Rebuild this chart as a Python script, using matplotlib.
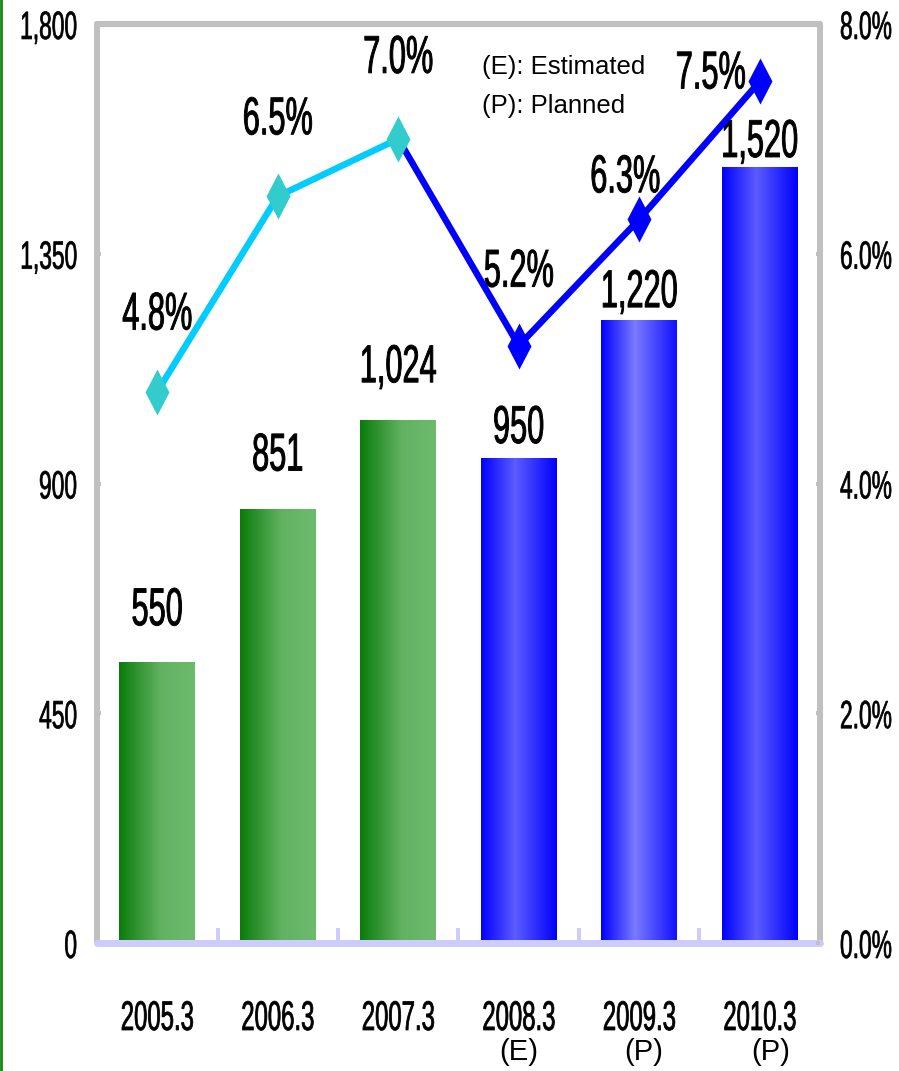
import numpy as np
import matplotlib
matplotlib.use("Agg")
import matplotlib.pyplot as plt
from matplotlib import font_manager
from matplotlib.colors import LinearSegmentedColormap
from matplotlib.patheffects import AbstractPathEffect
from matplotlib.transforms import Affine2D
from matplotlib.path import Path
from matplotlib.lines import Line2D
from matplotlib.ticker import FuncFormatter
from matplotlib.textpath import TextToPath

# ---- data -------------------------------------------------------------
periods = ["2005.3", "2006.3", "2007.3", "2008.3", "2009.3", "2010.3"]
status = ["", "", "", "(E)", "(P)", "(P)"]
sales = [550, 851, 1024, 950, 1220, 1520]
growth = [4.8, 6.5, 7.0, 5.2, 6.3, 7.5]
left_ticks = [0, 450, 900, 1350, 1800]
right_ticks = [0.0, 2.0, 4.0, 6.0, 8.0]
notes = ["(E): Estimated", "(P): Planned"]

# ---- styling ----------------------------------------------------------
W, H, DPI = 899, 1071, 100
PX = 72.0 / DPI  # points per pixel

GREEN_STOPS = [(0.0, "#0a7c0a"), (0.55, "#62b262"), (1.0, "#6dba6d")]
BLUE_STOPS = [
    [(0.0, "#0000ff"), (0.45, "#5c5cff"), (1.0, "#0000ff")],
    [(0.0, "#0000ff"), (0.45, "#7a7aff"), (1.0, "#1010ff")],
    [(0.0, "#0000ff"), (0.45, "#5c5cff"), (1.0, "#0000ff")],
]
bar_stops = [GREEN_STOPS] * 3 + BLUE_STOPS
line_colors = ["#00ccff", "#00ccff", "#0000ff", "#0000ff", "#0000ff"]
marker_colors = ["#33cccc"] * 3 + ["#0000ff"] * 3
value_gap_px = [37, 38, 38, 15, 13, 10]
pct_offset_px = [(0, 62), (0, 62), (0, 66), (0, 59), (-14, 27), (-49, -7)]
status_dx_px = [0, 0, 0, 0, 4, 11]

FRAME = "#c0c0c0"
AXIS_LAV = "#ccccff"

# condensed numeric face; fall back to a regular face squeezed further
names = {f.name for f in font_manager.fontManager.ttflist}
if "Liberation Sans Narrow" in names:
    NARROW, WK = "Liberation Sans Narrow", 1.0
else:
    NARROW, WK = "Liberation Sans", 0.82
REG = "Liberation Sans" if "Liberation Sans" in names else "DejaVu Sans"
NUM_FAMILY = [NARROW, "DejaVu Sans"]


class Stretch(AbstractPathEffect):
    """Draw glyphs taller than their nominal face (pivot given as a fraction
    of the em above the baseline), with a slight outline to darken strokes."""

    def __init__(self, sy, pivot=0.0, outline=0.0):
        super().__init__()
        self.sy = sy
        self.pivot = pivot
        self.outline = outline

    def draw_path(self, renderer, gc, tpath, affine, rgbFace=None):
        px, py = affine.transform((0.0, self.pivot * TextToPath.FONT_SCALE))
        aff = affine + Affine2D().translate(-px, -py).scale(1.0, self.sy).translate(px, py)
        gc0 = renderer.new_gc()
        gc0.copy_properties(gc)
        if self.outline and rgbFace is not None:
            gc0.set_linewidth(self.outline)
            gc0.set_foreground(rgbFace)
            gc0.set_joinstyle("round")
        renderer.draw_path(gc0, tpath, aff, rgbFace)
        gc0.restore()


SY = 1.42 / WK
tall = [Stretch(SY, 0.0, outline=0.65)]
tall_small = [Stretch(SY, 0.358, outline=0.5)]
tall_cat = [Stretch(SY, 0.0, outline=0.55)]

# ---- figure -----------------------------------------------------------
fig = plt.figure(figsize=(W / DPI, H / DPI), dpi=DPI)
ax = fig.add_axes([97 / W, 1 - 943 / H, (820 - 97) / W, (943 - 24) / H])
x = np.arange(len(periods))

bars = ax.bar(x, sales, width=0.63, color="none", edgecolor="none", zorder=2)
grad = np.linspace(0, 1, 256)[None, :]
for bar, stops in zip(bars, bar_stops):
    cmap = LinearSegmentedColormap.from_list("g", stops)
    x0, y0 = bar.get_x(), bar.get_y()
    im = ax.imshow(grad, cmap=cmap, aspect="auto", interpolation="bilinear",
                   extent=(x0, x0 + bar.get_width(), y0, y0 + bar.get_height()),
                   zorder=2)
    im.set_clip_path(bar)

ax.set_xlim(-0.5, len(periods) - 0.5)
ax.set_ylim(left_ticks[0], left_ticks[-1])

# frame
for side in ("left", "top", "right"):
    ax.spines[side].set_color(FRAME)
    ax.spines[side].set_linewidth(6 * PX)
    ax.spines[side].set_capstyle("round")
ax.spines["bottom"].set_color(AXIS_LAV)
ax.spines["bottom"].set_linewidth(7 * PX)
ax.spines["bottom"].set_capstyle("round")
ax.spines["bottom"].set_zorder(3)

# x: separators between categories, labels drawn below
ax.set_xticks(x[:-1] + 0.5)
ax.tick_params(axis="x", direction="in", length=15 * PX, width=4 * PX,
               color=AXIS_LAV, labelbottom=False)

# left axis
ax.set_yticks(left_ticks)
ax.yaxis.set_major_formatter(FuncFormatter(lambda v, _: f"{v:,.0f}"))
ax.tick_params(axis="y", direction="in", length=4 * PX, width=4 * PX,
               color=FRAME, pad=20 * PX, labelsize=20 * WK)
for lbl in ax.get_yticklabels():
    lbl.set_family(NUM_FAMILY)
    lbl.set_path_effects(tall_small)

# right axis with the growth line
ax2 = ax.twinx()
for s in ax2.spines.values():
    s.set_visible(False)
ax2.set_ylim(right_ticks[0], right_ticks[-1])
ax2.set_yticks(right_ticks)
ax2.yaxis.set_major_formatter(FuncFormatter(lambda v, _: f"{v:.1f}%"))
ax2.tick_params(axis="y", direction="in", length=4 * PX, width=4 * PX,
                color=FRAME, pad=20 * PX, labelsize=20 * WK)
for lbl in ax2.get_yticklabels():
    lbl.set_family(NUM_FAMILY)
    lbl.set_path_effects(tall_small)

for i, c in enumerate(line_colors):
    ax2.plot(x[i:i + 2], growth[i:i + 2], color=c, lw=6.5 * PX,
             solid_capstyle="round", solid_joinstyle="round", zorder=3)

diamond = Path([(0, 1), (0.52, 0), (0, -1), (-0.52, 0), (0, 1)],
               [Path.MOVETO, Path.LINETO, Path.LINETO, Path.LINETO, Path.CLOSEPOLY])
for xi, g, c in zip(x, growth, marker_colors):
    ax2.plot([xi], [g], linestyle="none", marker=diamond, markersize=46 * PX,
             markerfacecolor=c, markeredgecolor="none", zorder=4)

# labels
for xi, v, gap in zip(x, sales, value_gap_px):
    ax.annotate(f"{v:,}", xy=(xi, v), xytext=(0, gap * PX), textcoords="offset points",
                ha="center", va="baseline", fontsize=27 * WK, family=NUM_FAMILY,
                path_effects=tall, zorder=5)

for xi, g, (dx, dy) in zip(x, growth, pct_offset_px):
    ax2.annotate(f"{g:.1f}%", xy=(xi, g), xytext=(dx * PX, dy * PX),
                 textcoords="offset points", ha="center", va="baseline",
                 fontsize=27 * WK, family=NUM_FAMILY, path_effects=tall,
                 zorder=5, annotation_clip=False)

for xi, p, st, sdx in zip(x, periods, status, status_dx_px):
    ax.annotate(p, xy=(xi, 0), xycoords=("data", "axes fraction"),
                xytext=(0, -(1030 - 943) * PX), textcoords="offset points",
                ha="center", va="baseline", fontsize=21 * WK, family=NUM_FAMILY,
                path_effects=tall_cat, annotation_clip=False)
    if st:
        ax.annotate(st, xy=(xi, 0), xycoords=("data", "axes fraction"),
                    xytext=(sdx * PX, -(1060 - 943) * PX), textcoords="offset points",
                    ha="center", va="baseline", fontsize=21, family=REG,
                    annotation_clip=False)

for txt, base in zip(notes, (74, 113)):
    fig.text(482 / W, 1 - base / H, txt, ha="left", va="baseline",
             fontsize=18.5, family=REG)

# green rule along the left edge of the page
fig.add_artist(Line2D([1.4 / W, 1.4 / W], [0, 1], transform=fig.transFigure,
                      color="#118a11", lw=2.8 * PX))

fig.savefig("out.png", dpi=DPI)
